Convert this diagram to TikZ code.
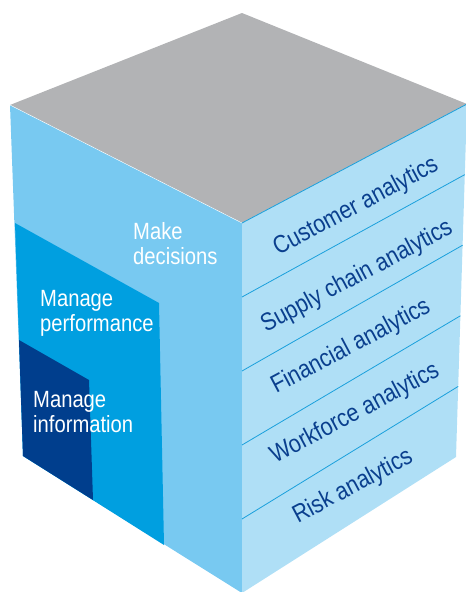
\documentclass[tikz,border=0pt]{standalone}
\usepackage{fontspec}
\setmainfont{Liberation Sans}[FakeStretch=0.86]
\usepackage{tikz}
\usetikzlibrary{calc}
\definecolor{topgray}{HTML}{B2B3B5}
\definecolor{decblue}{HTML}{78C9F1}
\definecolor{perfblue}{HTML}{009FE0}
\definecolor{infoblue}{HTML}{003E8D}
\definecolor{sideblue}{HTML}{AFDFF6}
\definecolor{lineblue}{HTML}{1AA0DC}
\definecolor{textblue}{HTML}{0A3F8E}

\begin{document}
\begin{tikzpicture}[x=1pt,y=-1pt,
	layertxt/.style={anchor=north west,inner sep=0pt,align=left,text=white,
		font=\fontsize{23.5}{25.5}\selectfont},
	anatxt/.style={inner sep=0pt,rotate=28,text=textblue,
		font=\fontsize{25}{27}\selectfont}]
	\useasboundingbox (0,0) rectangle (466,592);
	% cube corners
	\coordinate (top) at (242,13);
	\coordinate (left) at (10,105);
	\coordinate (front) at (242,223);
	\coordinate (right) at (467,104);
	\coordinate (bleft) at (23,456);
	\coordinate (bfront) at (242,593);
	\coordinate (bright) at (456,457);
	% faces
	\fill[topgray] (top) -- (right) -- (front) -- (left) -- cycle;
	\fill[decblue] (left) -- (front) -- (bfront) -- (bleft) -- cycle;
	\fill[sideblue] (front) -- (right) -- (bright) -- (bfront) -- cycle;
	\fill[perfblue] (15,223) -- (159,303) -- (164,545) -- (bleft) -- cycle;
	\fill[infoblue] (19,340) -- (89,380) -- (93,500) -- (bleft) -- cycle;
	\draw[white,line width=0.4pt] (left) -- (front);
	% slices of the right face
	\foreach \i in {0,...,4} {
		\draw[lineblue,line width=0.8pt] ($(front)!\i/5!(bfront)$) -- ($(right)!\i/5!(bright)$);
	}
	% labels
	\node[layertxt] (dec) at (133,222) {Make\\decisions};
	\node[layertxt] (perf) at (40,290) {Manage\\performance};
	\node[layertxt] (info) at (33,391) {Manage\\information};
	\node[anatxt] (cust) at (356,207) {Customer analytics};
	\node[anatxt] (supp) at (357,277) {Supply chain analytics};
	\node[anatxt] (fin) at (351,347) {Financial analytics};
	\node[anatxt] (work) at (355,414) {Workforce analytics};
	\node[anatxt] (risk) at (353,487) {Risk analytics};
\end{tikzpicture}
\end{document}
